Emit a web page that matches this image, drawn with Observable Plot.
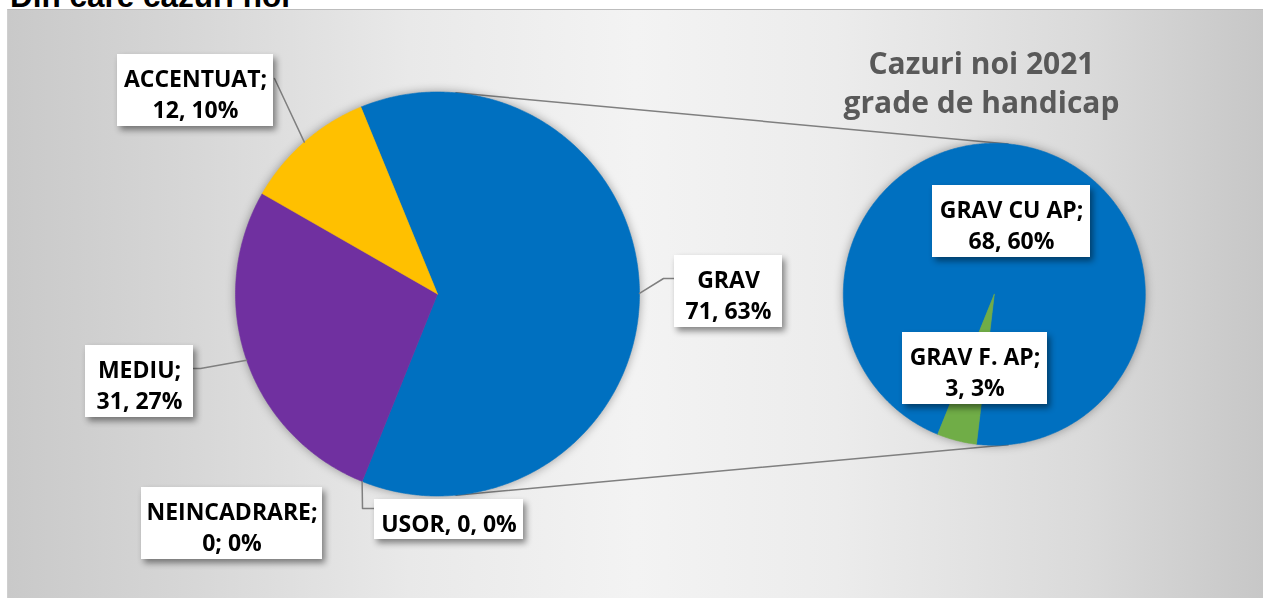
<!DOCTYPE html>
<html><head><meta charset="utf-8">
<script src="https://cdn.jsdelivr.net/npm/d3@7"></script>
<script src="https://cdn.jsdelivr.net/npm/@observablehq/plot@0.6"></script>
<style>
body{margin:0;background:#fff;}
#wrap{position:relative;width:1263px;height:598px;overflow:hidden;background:#fff;}
#bg{position:absolute;left:7px;top:9px;width:1256px;height:589px;
 background:linear-gradient(to right,#c9c9c9 0%,#d6d6d6 14%,#e9e9e9 32%,#f3f3f3 50%,#ececec 66%,#dadada 86%,#c7c7c7 100%);
 border-top:1px solid #bdbdbd;border-left:1px solid #cfcfcf;box-sizing:border-box;}
#head{position:absolute;left:10px;top:-19px;font:bold 31.5px "Liberation Sans",Arial,sans-serif;line-height:31px;color:#000;white-space:nowrap;}
#chart{position:absolute;left:0;top:0;}
</style></head>
<body>
<div id="wrap"><div id="bg"></div><div id="head"></div><div id="chart"></div></div>
<script>
// ---- data ----
const headline = "Din care cazuri noi";
const titleLines = ["Cazuri noi 2021", "grade de handicap"];
const mainCategories = ["GRAV", "USOR", "NEINCADRARE", "MEDIU", "ACCENTUAT"];
const mainValues = [71, 0, 0, 31, 12];
const mainLabels = ["GRAV\n71, 63%", "USOR, 0, 0%", "NEINCADRARE;\n0; 0%", "MEDIU;\n31, 27%", "ACCENTUAT;\n12, 10%"];
const subCategories = ["GRAV CU AP", "GRAV F. AP"];
const subValues = [68, 3];
const subLabels = ["GRAV CU AP;\n68, 60%", "GRAV F. AP;\n3, 3%"];

// ---- layout / style ----
const W = 1263, H = 598;
const MAIN = {cx: 437, cy: 293.5, r: 202, start: -22.3};
const SUB = {cx: 993.8, cy: 293.8, r: 151, start: 202};
const colorMap = {"GRAV": "#0070C0", "USOR": "#A5A5A5", "NEINCADRARE": "#ED7D31", "MEDIU": "#7030A0",
  "ACCENTUAT": "#FFC000", "GRAV CU AP": "#0070C0", "GRAV F. AP": "#70AD47"};
const boxes = {
  "ACCENTUAT": [117, 54, 273, 126], "GRAV": [674, 255, 782, 327], "MEDIU": [85, 345, 193, 417],
  "NEINCADRARE": [141, 487, 322, 559], "USOR": [374, 499, 523, 539],
  "GRAV CU AP": [932, 185, 1090, 257], "GRAV F. AP": [902, 332, 1047, 404]
};
const leaderElbows = {"ACCENTUAT": [[274, 78]], "GRAV": [[663, 278], [674, 278]],
  "MEDIU": [[200, 368], [193, 368]], "USOR": [[362, 508], [374, 508]]};
const leaderAtEdge = {"USOR": true};

document.getElementById("head").textContent = headline;

const rad = d => d * Math.PI / 180;
function arcs(cats, vals, P) {
  const pie = d3.pie().sort(null).startAngle(rad(P.start)).endAngle(rad(P.start) + 2 * Math.PI);
  return pie(vals).map((a, i) => ({cat: cats[i], value: vals[i], a0: a.startAngle, a1: a.endAngle, P}));
}
const rim = (P, t) => [P.cx + P.r * Math.sin(t), P.cy - P.r * Math.cos(t)];
function polygon(a) {
  const P = a.P;
  const pts = [{x: P.cx, y: P.cy}];
  const n = Math.max(2, Math.ceil((a.a1 - a.a0) / (Math.PI / 360)));
  for (let k = 0; k <= n; k++) {
    const [x, y] = rim(P, a.a0 + (a.a1 - a.a0) * k / n);
    pts.push({x, y});
  }
  pts.push({x: P.cx, y: P.cy});
  return pts;
}
const mainArcs = arcs(mainCategories, mainValues, MAIN);
const subArcs = arcs(subCategories, subValues, SUB);
const sliceArcs = [...mainArcs, ...subArcs].filter(a => a.value > 0);

// external tangent connectors between the two pies
const dCent = SUB.cx - MAIN.cx;
const th = Math.asin((MAIN.r - SUB.r) / dCent);
const connectors = [];
[th, Math.PI - th].forEach((t, i) => {
  const [x1, y1] = rim(MAIN, t), [x2, y2] = rim(SUB, t);
  connectors.push({id: i, x: x1, y: y1}, {id: i, x: x2, y: y2});
});

// leader lines
const leaders = [];
mainArcs.forEach(a => {
  const el = leaderElbows[a.cat];
  if (!el) return;
  const t = leaderAtEdge[a.cat] ? a.a1 : (a.a0 + a.a1) / 2;
  const [x, y] = rim(MAIN, t);
  leaders.push({id: a.cat, x, y});
  el.forEach(([ex, ey]) => leaders.push({id: a.cat, x: ex, y: ey}));
});

const labelRows = [
  ...mainCategories.map((c, i) => ({cat: c, text: mainLabels[i]})),
  ...subCategories.map((c, i) => ({cat: c, text: subLabels[i]}))
].map(d => {
  const [x1, y1, x2, y2] = boxes[d.cat];
  return {...d, x1, y1, x2, y2};
});

const sliceMarks = sliceArcs.map(a =>
  Plot.line(polygon(a), {x: "x", y: "y", fill: colorMap[a.cat], stroke: colorMap[a.cat], strokeWidth: 0.6}));

const chart = Plot.plot({
  width: W, height: H, margin: 0,
  x: {domain: [0, W], range: [0, W], axis: null},
  y: {domain: [0, H], range: [0, H], axis: null},
  style: {background: "transparent", overflow: "visible"},
  marks: [
    Plot.line(connectors, {x: "x", y: "y", z: "id", stroke: "#7f7f7f", strokeWidth: 1.5}),
    ...sliceMarks,
    Plot.line(leaders, {x: "x", y: "y", z: "id", stroke: "#7f7f7f", strokeWidth: 1.5}),
    Plot.rect(labelRows, {x1: "x1", x2: "x2", y1: "y1", y2: "y2", fill: "white"}),
    Plot.text(labelRows, {x: d => (d.x1 + d.x2) / 2, y: d => (d.y1 + d.y2) / 2 + 2, text: "text",
      fontSize: 23, fontWeight: 700, fontFamily: "Open Sans", lineHeight: 1.37, fill: "#000"}),
    Plot.text([titleLines.join("\n")], {x: () => 981, y: () => 80.7, text: d => d,
      fontSize: 30, fontWeight: 700, fontFamily: "Open Sans", lineHeight: 1.31, fill: "#595959"})
  ]
});
// styling of rendered mark groups: soft shadow on pie slices, drop shadow on label boxes
const groups = Array.from(chart.children).filter(n => n.tagName.toLowerCase() === "g");
const nS = sliceMarks.length;
const pieGroups = groups.slice(1, 1 + nS);
const wrapG = document.createElementNS("http://www.w3.org/2000/svg", "g");
wrapG.setAttribute("style", "filter: drop-shadow(0px 0px 5px rgba(0,0,0,0.35))");
pieGroups[0].before(wrapG);
pieGroups.forEach(g => wrapG.appendChild(g));
const rectG = groups[1 + nS + 1];
if (rectG) rectG.setAttribute("style", "filter: drop-shadow(3px 4px 3px rgba(0,0,0,0.45))");
document.getElementById("chart").appendChild(chart);
</script>
</body></html>
